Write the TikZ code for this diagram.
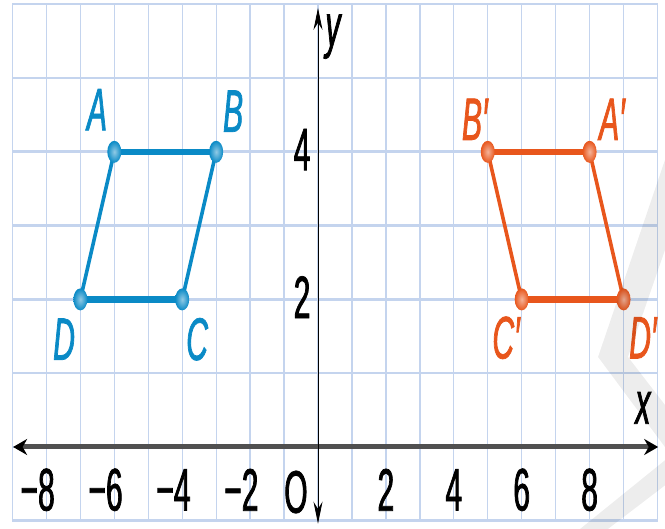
\documentclass[tikz,border=0pt]{standalone}
\usepackage{fontspec}
\usepackage{xcolor}
\usepackage{tikz}
\usetikzlibrary{arrows.meta}
\newfontfamily\lblfont[FakeStretch=0.5,FakeBold=1.2]{Liberation Sans}
\definecolor{gridblue}{HTML}{C4D4EE}
\definecolor{axisgray}{HTML}{505050}
\definecolor{shapeblue}{HTML}{0A8AC6}
\definecolor{shapeorange}{HTML}{E8561C}

\begin{document}
\begin{tikzpicture}[x=33.95pt,y=73.8pt,
    lbl/.style={font=\lblfont\fontsize{60}{60}\selectfont,inner sep=0pt},
    vlbl/.style={font=\lblfont\itshape\fontsize{60}{60}\selectfont,inner sep=0pt},
    hedge/.style={line width=6.5pt},
    sedge/.style={line width=3.6pt},
    vdot/.style={x radius=7pt,y radius=11pt}]
    \useasboundingbox (-9.367,-1.111) rectangle (10.221,6.057);
    % grid
    \foreach \i in {-9,...,10} \draw[gridblue,line width=1.3pt] (\i,-1) -- (\i,6);
    \foreach \j in {-1,...,6} \draw[gridblue,line width=2.6pt] (-9,\j) -- (10,\j);
    % axes
    \draw[axisgray,line width=5pt,
      {Stealth[length=14pt,width=16pt,color=black]}-{Stealth[length=14pt,width=16pt,color=black]}]
      (-8.98,0) -- (10.02,0);
    \draw[black,line width=0.9pt,
      {Stealth[length=22pt,width=9pt]}-{Stealth[length=22pt,width=9pt]}]
      (0,-1.04) -- (0,5.95);
    \node[vlbl] (xlab) at (9.57,0.53) {x};
    \node[vlbl] (ylab) at (0.44,5.56) {y};
    \node[lbl] (orig) at (-0.65,-0.61) {O};
    \foreach \t/\s in {-8/8,-6/6,-4/4,-2/2} \node[lbl] at (\t,-0.58) {\llap{−}\s};
    \foreach \t in {2,4,6,8} \node[lbl] at (\t,-0.58) {\t};
    \foreach \v in {2,4} \node[lbl] at (-0.47,\v+0.03) {\v};
    % ABCD
    \coordinate (A) at (-6,4);
    \coordinate (B) at (-3,4);
    \coordinate (C) at (-4,2);
    \coordinate (D) at (-7,2);
    \draw[shapeblue,hedge] (A) -- (B);
    \draw[shapeblue,hedge] (D) -- (C);
    \draw[shapeblue,sedge] (A) -- (D);
    \draw[shapeblue,sedge] (B) -- (C);
    \foreach \p in {A,B,C,D}
      \shade[inner color=shapeblue!45!white,outer color=shapeblue] (\p) ellipse [vdot];
    \node[vlbl,text=shapeblue] at (-6.51,4.57) {A};
    \node[vlbl,text=shapeblue] at (-2.50,4.55) {B};
    \node[vlbl,text=shapeblue] at (-3.56,1.46) {C};
    \node[vlbl,text=shapeblue] at (-7.48,1.46) {D};
    % A'B'C'D'
    \coordinate (Ap) at (8,4);
    \coordinate (Bp) at (5,4);
    \coordinate (Cp) at (6,2);
    \coordinate (Dp) at (9,2);
    \draw[shapeorange,hedge] (Bp) -- (Ap);
    \draw[shapeorange,hedge] (Cp) -- (Dp);
    \draw[shapeorange,sedge] (Bp) -- (Cp);
    \draw[shapeorange,sedge] (Ap) -- (Dp);
    \foreach \p in {Ap,Bp,Cp,Dp}
      \shade[inner color=shapeorange!45!white,outer color=shapeorange] (\p) ellipse [vdot];
    \node[vlbl,text=shapeorange] at (8.66,4.44) {A′};
    \node[vlbl,text=shapeorange] at (4.62,4.44) {B′};
    \node[vlbl,text=shapeorange] at (5.54,1.48) {C′};
    \node[vlbl,text=shapeorange] at (9.57,1.48) {D′};
    % faint mark at the right edge
    \fill[black,opacity=0.07] (10.22,3.89) -- (8.25,1.22) -- (10.22,0) -- (10.22,0.57)
      -- (9.13,1.22) -- (10.22,2.67) -- cycle;
    \fill[black,opacity=0.07] (7.72,-1.111) -- (8.54,-1.111) -- (10.22,-0.52) -- (10.22,-0.18) -- cycle;
  \end{tikzpicture}
\end{document}
